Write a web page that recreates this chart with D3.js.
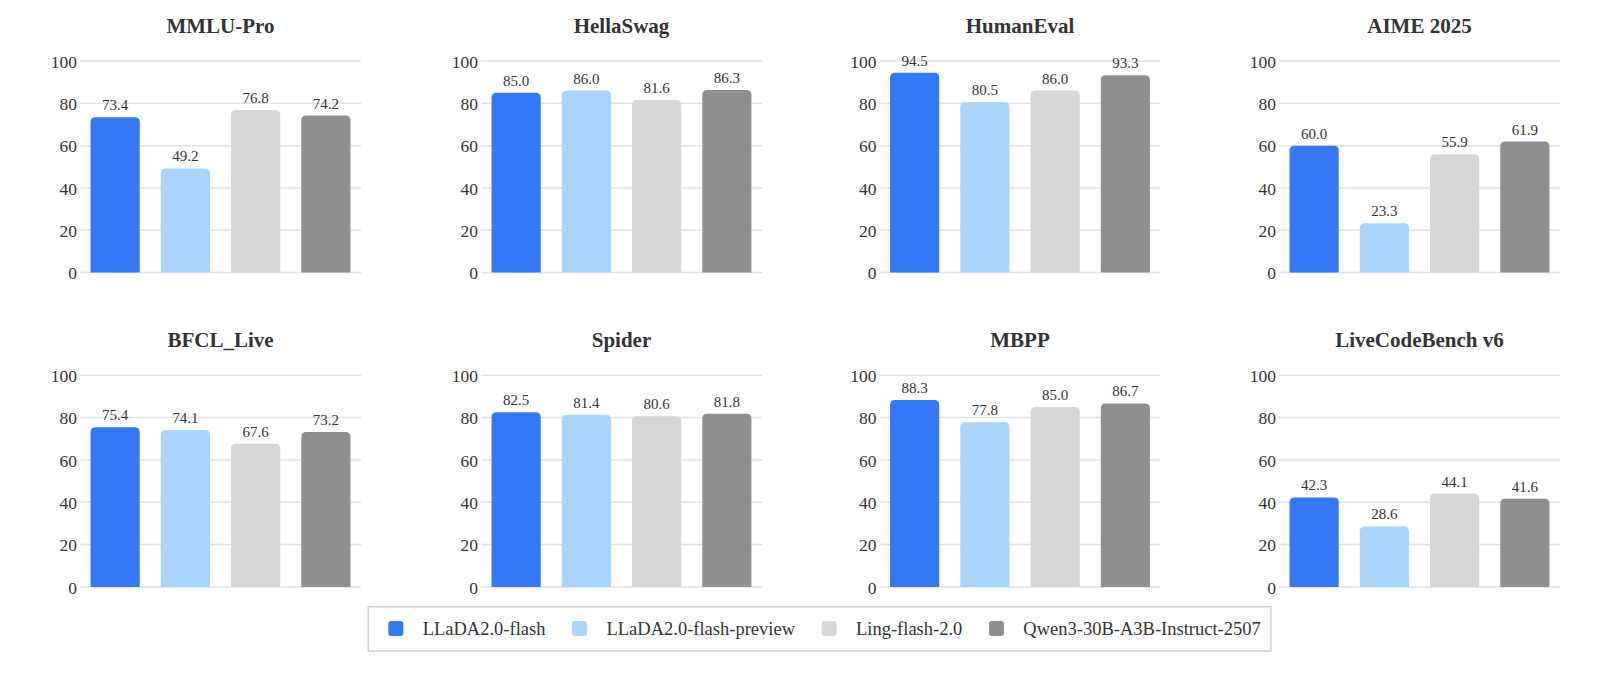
<!DOCTYPE html>
<html>
<head>
<meta charset="utf-8">
<script src="https://cdn.jsdelivr.net/npm/d3@7"></script>
<style>
  html, body { margin: 0; padding: 0; background: #fff; }
  svg { display: block; }
  text { font-family: "Liberation Serif", "Times New Roman", serif; fill: #333; }
</style>
</head>
<body>
<svg id="chart" width="1600" height="693"></svg>
<script>
const models = ["LLaDA2.0-flash", "LLaDA2.0-flash-preview", "Ling-flash-2.0", "Qwen3-30B-A3B-Instruct-2507"];
const colors = ["#3478F6", "#A8D4FD", "#D7D6D9", "#908E91"];
const benchmarks = ["MMLU-Pro", "HellaSwag", "HumanEval", "AIME 2025", "BFCL_Live", "Spider", "MBPP", "LiveCodeBench v6"];
const llada_flash = [73.4, 85.0, 94.5, 60.0, 75.4, 82.5, 88.3, 42.3];
const llada_preview = [49.2, 86.0, 80.5, 23.3, 74.1, 81.4, 77.8, 28.6];
const ling_flash = [76.8, 81.6, 86.0, 55.9, 67.6, 80.6, 85.0, 44.1];
const qwen3 = [74.2, 86.3, 93.3, 61.9, 73.2, 81.8, 86.7, 41.6];
const yTicks = [0, 20, 40, 60, 80, 100];

const series = [llada_flash, llada_preview, ling_flash, qwen3];

const svg = d3.select("#chart");
const colX = [80, 481, 879.5, 1279];
const rowTop = [61, 375.3];
const panelW = 281, panelH = 211.6;
const serif = '"Liberation Serif", "Times New Roman", serif';

function topRoundedRect(x, y, w, h, r) {
  r = Math.min(r, h, w / 2);
  return `M${x},${y + h}V${y + r}Q${x},${y} ${x + r},${y}H${x + w - r}Q${x + w},${y} ${x + w},${y + r}V${y + h}Z`;
}

benchmarks.forEach((b, i) => {
  const col = i % 4, row = Math.floor(i / 4);
  const g = svg.append("g").attr("transform", `translate(${colX[col]},${rowTop[row]})`);
  const x = d3.scaleBand().domain(models).range([0, panelW]).paddingInner(0.3).paddingOuter(0.15);
  const y = d3.scaleLinear().domain([0, 100]).range([panelH, 0]);

  g.selectAll("line.grid").data(yTicks).join("line")
    .attr("x1", 0).attr("x2", panelW)
    .attr("y1", d => y(d)).attr("y2", d => y(d))
    .attr("stroke", "#e3e3e6").attr("stroke-width", 1.5);

  const yAxis = d3.axisLeft(y).tickValues(yTicks).tickSize(0).tickPadding(3);
  const ag = g.append("g").call(yAxis);
  ag.attr("font-family", serif).attr("font-size", 17.5);
  ag.select(".domain").remove();
  ag.selectAll("text").attr("font-family", serif).attr("font-size", 17.5).attr("fill", "#333").attr("dy", "0.36em");

  g.append("text").attr("x", panelW / 2).attr("y", -28)
    .attr("text-anchor", "middle").attr("font-family", serif).attr("font-size", 21).attr("font-weight", "bold")
    .attr("fill", "#333").text(b);

  const vals = models.map((m, k) => ({ m, v: series[k][i], c: colors[k] }));
  g.selectAll("path.bar").data(vals).join("path")
    .attr("d", d => topRoundedRect(x(d.m), y(d.v), x.bandwidth(), y(0) - y(d.v), 5))
    .attr("fill", d => d.c);
  g.selectAll("text.val").data(vals).join("text")
    .attr("x", d => x(d.m) + x.bandwidth() / 2).attr("y", d => y(d.v) - 7)
    .attr("text-anchor", "middle").attr("font-family", serif).attr("font-size", 15).attr("fill", "#333")
    .text(d => d.v.toFixed(1));
});

const lg = svg.append("g");
lg.append("rect").attr("x", 368.3).attr("y", 606.7).attr("width", 1271 - 368.3).attr("height", 651 - 606.7)
  .attr("fill", "#fff").attr("stroke", "#cfcfcf").attr("stroke-width", 1.5);
let lx = 388.3;
models.forEach((m, k) => {
  lg.append("rect").attr("x", lx).attr("y", 621).attr("width", 15).attr("height", 15).attr("rx", 3)
    .attr("fill", colors[k]);
  const t = lg.append("text").attr("x", lx + 34.4).attr("y", 628.5).attr("dy", "0.35em")
    .attr("font-family", serif).attr("font-size", 18.5).attr("fill", "#333").text(m);
  lx = lx + 34.4 + t.node().getComputedTextLength() + 26.6;
});
</script>
</body>
</html>
